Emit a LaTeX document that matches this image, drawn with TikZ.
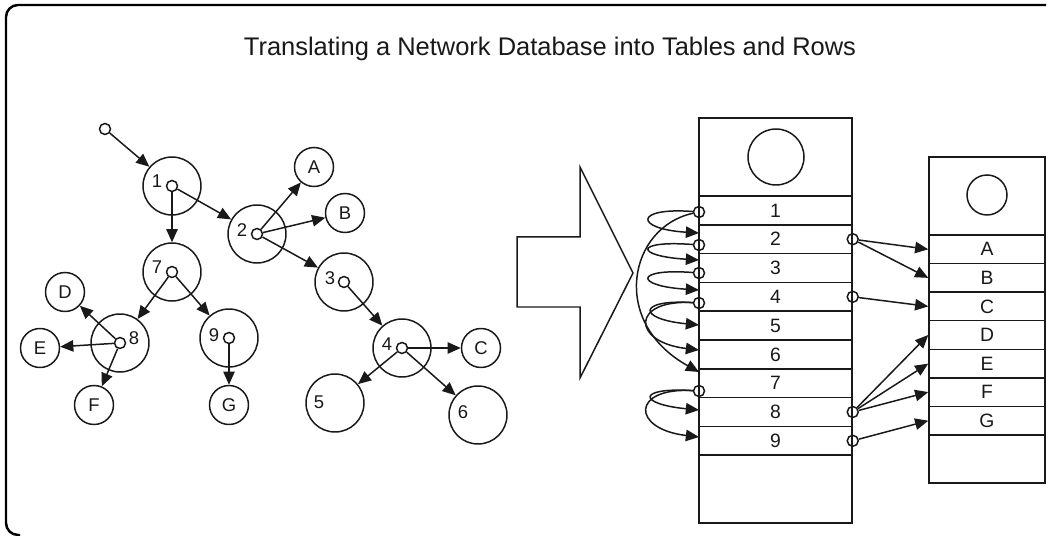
\documentclass[tikz,border=0pt]{standalone}
\usepackage{fontspec}
\setmainfont{Liberation Sans}
\usetikzlibrary{arrows.meta,positioning}
\tikzset{
  rec/.style={circle, draw, line width=0.85pt, inner sep=0pt, minimum size=1.16cm},
  key/.style={circle, draw, line width=0.85pt, inner sep=0pt, minimum size=0.78cm,
              font=\fontsize{10.5}{11}\selectfont},
  ptr/.style={circle, draw, line width=0.85pt, inner sep=0pt, minimum size=0.22cm},
  num/.style={inner sep=0pt, font=\fontsize{10.5}{11}\selectfont},
  row/.style={rectangle, draw, line width=0.85pt, inner sep=0pt, minimum width=3.06cm,
              minimum height=0.576cm, font=\fontsize{11}{12}\selectfont},
  rowk/.style={row, minimum width=2.32cm, minimum height=0.571cm},
  ed/.style={-{Triangle[length=7.5pt,width=6.5pt]}, line width=0.85pt},
  frame/.style={line width=1.4pt, rounded corners=0.24cm}
}
\begin{document}
\begin{tikzpicture}[x=0.02cm, y=-0.02cm, color=black!90]
\useasboundingbox (0,0) rectangle (1048,536);
\draw[frame, black] (1046,5) -- (6,5) -- (6,535) -- (20,535);
\node[font=\fontsize{14.5}{16}\selectfont] (title) at (550,49)
  {Translating a Network Database into Tables and Rows};

% network
\node[ptr] (p0) at (105,129) {};
\node[rec] (n1) at (172,186) {};
\node[ptr] (p1) at (n1) {};
\node[num] at (157,181) {1};
\node[rec] (n2) at (257,234) {};
\node[ptr] (p2) at (n2) {};
\node[num] at (242,230) {2};
\node[rec] (n7) at (172,272) {};
\node[ptr] (p7) at (n7) {};
\node[num] at (157,267) {7};
\node[rec] (n3) at (344,282) {};
\node[ptr] (p3) at (n3) {};
\node[num] at (330,278) {3};
\node[rec] (n8) at (120,343) {};
\node[ptr] (p8) at (n8) {};
\node[num] at (134,338) {8};
\node[rec] (n9) at (229,338) {};
\node[ptr] (p9) at (n9) {};
\node[num] at (214,335) {9};
\node[rec] (n4) at (402,348) {};
\node[ptr] (p4) at (n4) {};
\node[num] at (387,344) {4};
\node[rec] (n5) at (335,403) {};
\node[num] at (319,402) {5};
\node[rec] (n6) at (478,415) {};
\node[num] at (463,412) {6};
\node[key] (kA) at (314,167) {A};
\node[key] (kB) at (345,213) {B};
\node[key] (kC) at (481,348) {C};
\node[key] (kD) at (65,292) {D};
\node[key] (kE) at (40,348) {E};
\node[key] (kF) at (94,405) {F};
\node[key] (kG) at (229,405) {G};
\draw[ed] (p0) -- (n1);
\draw[ed] (p1) -- (n2);
\draw[ed] (p1) -- (n7);
\draw[ed] (p2) -- (kA);
\draw[ed] (p2) -- (kB);
\draw[ed] (p2) -- (n3);
\draw[ed] (p3) -- (n4);
\draw[ed] (p4) -- (kC);
\draw[ed] (p4) -- (n5);
\draw[ed] (p4) -- (n6);
\draw[ed] (p7) -- (n8);
\draw[ed] (p7) -- (n9);
\draw[ed] (p8) -- (kD);
\draw[ed] (p8) -- (kE);
\draw[ed] (p8) -- (kF);
\draw[ed] (p9) -- (kG);

% block arrow
\draw[line width=0.85pt] (517,237) -- (580,237) -- (580,167) -- (633,273)
  -- (580,378) -- (580,307) -- (517,307) -- cycle;

% record table
\draw[line width=0.85pt] (699,118) rectangle (852,523);
\node[circle, draw, line width=0.85pt, minimum size=1.12cm] (hdr1) at (776,157) {};
\node[row] (r1) at (775.5,210.4) {1};
\node[row] (r2) at (775.5,239.2) {2};
\node[row] (r3) at (775.5,268.0) {3};
\node[row] (r4) at (775.5,296.8) {4};
\node[row] (r5) at (775.5,325.6) {5};
\node[row] (r6) at (775.5,354.4) {6};
\node[row] (r7) at (775.5,383.2) {7};
\node[row] (r8) at (775.5,412.0) {8};
\node[row] (r9) at (775.5,440.8) {9};

% key table
\draw[line width=0.85pt] (929,157) rectangle (1045,483);
\node[circle, draw, line width=0.85pt, minimum size=0.8cm] (hdr2) at (987,195) {};
\node[rowk] (rA) at (987,249.3) {A};
\node[rowk] (rB) at (987,277.9) {B};
\node[rowk] (rC) at (987,306.4) {C};
\node[rowk] (rD) at (987,335.0) {D};
\node[rowk] (rE) at (987,363.6) {E};
\node[rowk] (rF) at (987,392.1) {F};
\node[rowk] (rG) at (987,420.7) {G};

% sibling and child pointers
\node[ptr] (q1) at (699,212) {};
\node[ptr] (q2) at (699,245) {};
\node[ptr] (q3) at (699,273) {};
\node[ptr] (q4) at (699,303) {};
\node[ptr] (q7) at (699,391) {};
\coordinate (t2) at (699,233);
\coordinate (t3) at (699,260);
\coordinate (t4) at (699,290);
\coordinate (t5) at (699,325);
\coordinate (t6) at (699,350);
\coordinate (t7) at (699,372);
\coordinate (t8) at (699,410);
\coordinate (t9) at (699,437);
\draw[ed] (q1) .. controls +(-65,-5) and +(-65,-4) .. (t2);
\draw[ed] (q1) .. controls +(-70,15) and +(-90,-50) .. (t7);
\draw[ed] (q2) .. controls +(-65,-5) and +(-65,-4) .. (t3);
\draw[ed] (q3) .. controls +(-65,-5) and +(-65,-4) .. (t4);
\draw[ed] (q4) .. controls +(-62,-4) and +(-62,-6) .. (t5);
\draw[ed] (q4) .. controls +(-68,-4) and +(-68,-8) .. (t6);
\draw[ed] (q7) .. controls +(-62,-4) and +(-62,-6) .. (t8);
\draw[ed] (q7) .. controls +(-68,-4) and +(-68,-8) .. (t9);

% key pointers
\node[ptr] (s2) at (r2.east) {};
\node[ptr] (s4) at (r4.east) {};
\node[ptr] (s8) at (r8.east) {};
\node[ptr] (s9) at (r9.east) {};
\draw[ed] (s2) -- (rA.west);
\draw[ed] (s2) -- (rB.west);
\draw[ed] (s4) -- (rC.west);
\draw[ed] (s8) -- (rD.west);
\draw[ed] (s8) -- (rE.west);
\draw[ed] (s8) -- (rF.west);
\draw[ed] (s9) -- (rG.west);
\end{tikzpicture}
\end{document}
